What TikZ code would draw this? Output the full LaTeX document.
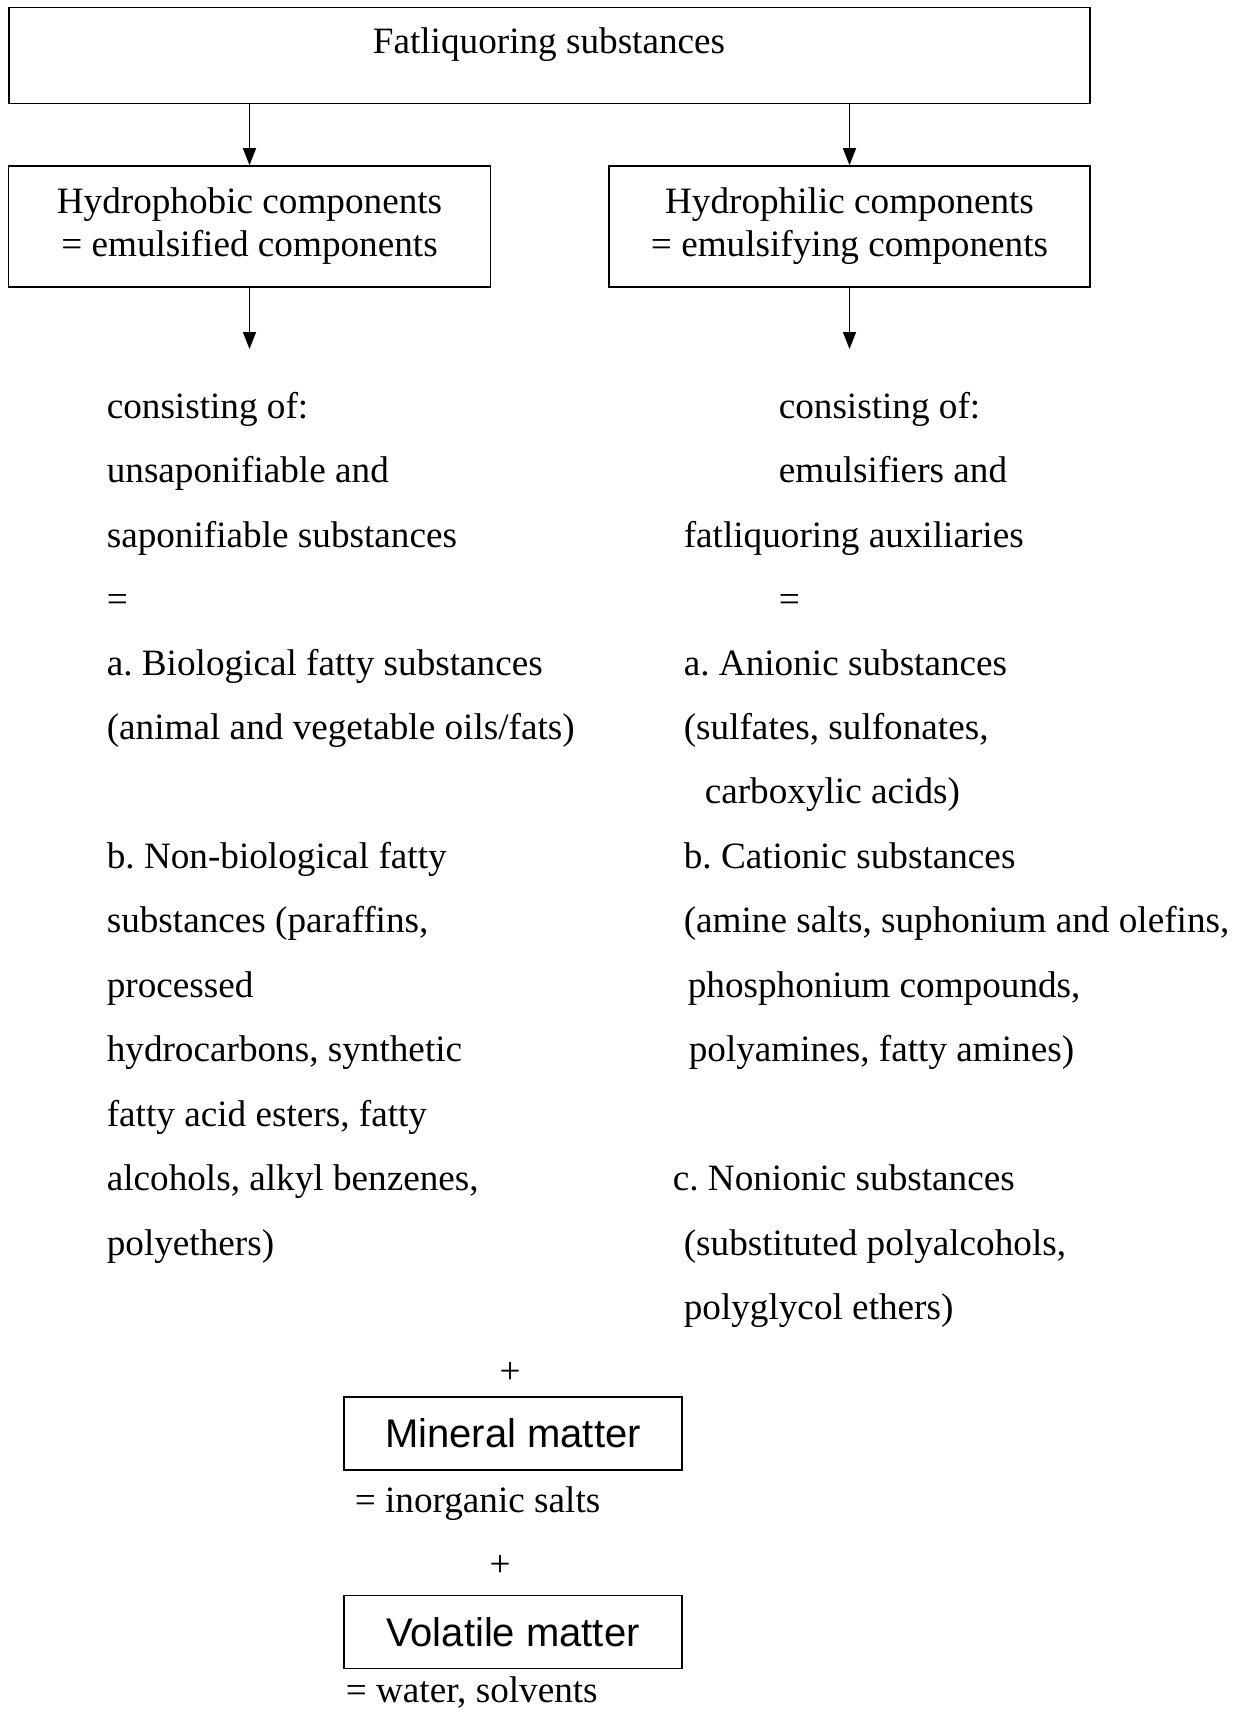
\documentclass[tikz,border=0pt]{standalone}
\usepackage{fontspec}
\setmainfont{Liberation Serif}
\setsansfont{Liberation Sans}
\usetikzlibrary{arrows.meta}
\frenchspacing
\begin{document}
\begin{tikzpicture}[x=0.5pt,y=-0.5pt,
  line width=0.8pt,
  box/.style={draw, rectangle, inner sep=0pt, align=center},
  serif/.style={font=\rmfamily\frenchspacing\fontsize{18.6}{21.5}\selectfont},
  txt/.style={serif, anchor=base west, inner sep=0pt},
  sansbox/.style={box, font=\sffamily\fontsize{20}{24}\selectfont, minimum width=169pt, minimum height=36.5pt},
  arr/.style={-{Triangle[length=8.5pt,width=6.5pt]}}]
\useasboundingbox (0,0) rectangle (1251,1709);
% top box
\node[box, minimum width=540.5pt, minimum height=48pt] (top) at (549.5,55.5) {};
\node[serif, anchor=base, inner sep=0pt] (toptxt) at (549,53) {Fatliquoring substances};
% second-level boxes
\node[box, serif, minimum width=241pt, minimum height=60.5pt] (hb) at (249.5,226.5)
  {Hydrophobic components\\= emulsified components};
\node[box, serif, minimum width=240.5pt, minimum height=60.5pt] (hl) at (849.5,226.5)
  {Hydrophilic components\\= emulsifying components};
\draw[arr] (top.south -| hb.north) -- (hb.north);
\draw[arr] (top.south -| hl.north) -- (hl.north);
\coordinate (hbend) at (249.5,349);
\coordinate (hlend) at (849.5,349);
\draw[arr] (hb.south) -- (hbend);
\draw[arr] (hl.south) -- (hlend);
% left column
\node[txt] (l1) at (106,418) {consisting of:};
\node[txt] (l2) at (106,482) {unsaponifiable and};
\node[txt] (l3) at (106,547) {saponifiable substances};
\node[txt] (l4) at (106,611) {=};
\node[txt] (l5) at (106,675) {a. Biological fatty substances};
\node[txt] (l6) at (106,739) {(animal and vegetable oils/fats)};
\node[txt] (l7) at (106,868) {b. Non-biological fatty};
\node[txt] (l8) at (106,932) {substances (paraffins,};
\node[txt] (l9) at (106,997) {processed};
\node[txt] (l10) at (106,1061) {hydrocarbons, synthetic};
\node[txt] (l11) at (106,1126) {fatty acid esters, fatty};
\node[txt] (l12) at (106,1190) {alcohols, alkyl benzenes,};
\node[txt] (l13) at (106,1255) {polyethers)};
% right column
\node[txt] (r1) at (778,418) {consisting of:};
\node[txt] (r2) at (778,482) {emulsifiers and};
\node[txt] (r3) at (683,547) {fatliquoring auxiliaries};
\node[txt] (r4) at (778,611) {=};
\node[txt] (r5) at (683,675) {a. Anionic substances};
\node[txt] (r6) at (683,739) {(sulfates, sulfonates,};
\node[txt] (r7) at (704,803) {carboxylic acids)};
\node[txt] (r8) at (683,868) {b. Cationic substances};
\node[txt] (r9) at (683,932) {(amine salts, suphonium and olefins,};
\node[txt] (r10) at (687,997) {phosphonium compounds,};
\node[txt] (r11) at (688,1061) {polyamines, fatty amines)};
\node[txt] (r12) at (672,1190) {c. Nonionic substances};
\node[txt] (r13) at (683,1255) {(substituted polyalcohols,};
\node[txt] (r14) at (683,1319) {polyglycol ethers)};
% bottom
\node[serif, anchor=base, inner sep=0pt] (plus1) at (510,1383) {+};
\node[sansbox] (mm) at (513,1433.5) {Mineral matter};
\node[txt] (mmt) at (354,1512) {= inorganic salts};
\node[serif, anchor=base, inner sep=0pt] (plus2) at (500,1576) {+};
\node[sansbox] (vm) at (513,1632) {Volatile matter};
\node[txt] (vmt) at (345,1702) {= water, solvents};
\end{tikzpicture}
\end{document}
